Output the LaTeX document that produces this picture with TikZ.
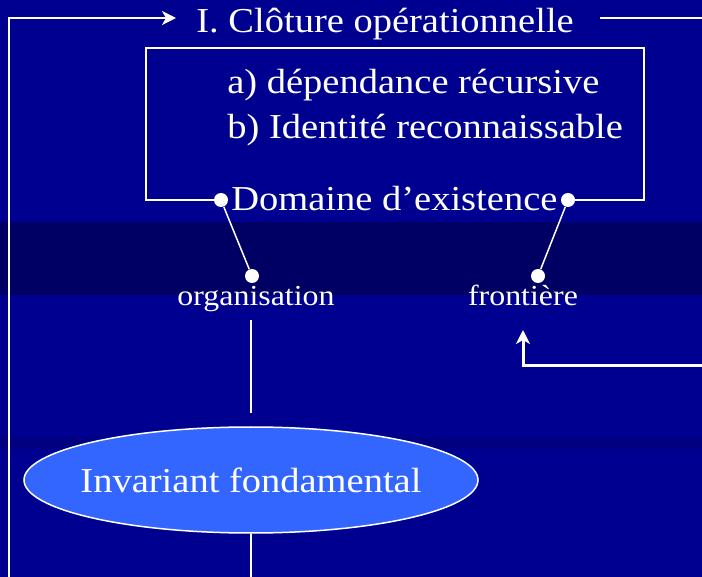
\documentclass[tikz,border=0pt]{standalone}
\usepackage{fontspec}
\setmainfont[FakeStretch=1.1]{Liberation Serif}
\usetikzlibrary{positioning, arrows.meta, shapes.geometric}
\definecolor{fond}{RGB}{0,0,144}
\definecolor{bande}{RGB}{0,0,100}
\definecolor{bandeclaire}{RGB}{0,0,128}
\definecolor{ovale}{RGB}{51,102,255}
\begin{document}
\begin{tikzpicture}[x=0.5pt, y=-0.5pt, text=white,
    grand/.style={font=\fontsize{17.5}{21}\selectfont, inner sep=0pt},
    petit/.style={font=\fontsize{14.5}{17}\selectfont, inner sep=0pt},
    trait/.style={draw=white, line width=1pt},
    fin/.style={draw=white, line width=0.75pt},
    fleche/.style={trait, -{Stealth[length=7pt, width=7pt, inset=2pt]}},
    point/.style={circle, fill=white, inner sep=0pt, minimum size=7pt}]
\useasboundingbox (0,0) rectangle (702,577);
\fill[fond] (0,0) rectangle (702,577);
\fill[bande] (0,222) rectangle (702,295);
\fill[bandeclaire] (0,437) rectangle (702,449);

\node[grand, anchor=base west] (titre) at (196,33) {I. Clôture opérationnelle};
\node[grand, anchor=base west] (a) at (227,94) {a) dépendance récursive};
\node[grand, anchor=base west] (b) at (227,139) {b) Identité reconnaissable};
\node[grand, anchor=base west] (dom) at (231,211) {Domaine d’existence};
\node[petit, anchor=base] (org) at (256,306) {organisation};
\node[petit, anchor=base] (fr) at (523,306) {frontière};
\node[ellipse, draw=white, line width=0.75pt, fill=ovale, minimum width=227pt,
    minimum height=53pt, inner sep=0pt] (inv) at (251,480) {};
\node[grand] (invtexte) at (inv) {Invariant fondamental};

\node[point] (p1) at (221,200) {};
\node[point] (p2) at (568,200) {};
\node[point] (p3) at (252,276) {};
\node[point] (p4) at (538,276) {};

\coordinate (g0) at (9,577);
\coordinate (g1) at (176,18);
\coordinate (d0) at (600,18);
\coordinate (d1) at (702,18);
\coordinate (f0) at (702,366);
\coordinate (f1) at (523,330);
\coordinate (o0) at (251,320);
\coordinate (o1) at (251,413);
\coordinate (i1) at (251,577);

\draw[fleche] (g0) |- (g1);
\draw[trait] (d0) -- (d1);
\draw[trait] (p1) -- (146,200) -- (146,48) -- (644,48) -- (644,200) -- (p2);
\draw[fin] (p1) -- (p3);
\draw[fin] (p2) -- (p4);
\draw[fleche, line width=1.5pt] (f0) -| (f1);
\draw[fin] (o0) -- (o1);
\draw[fin] (inv) -- (i1);
\end{tikzpicture}
\end{document}
